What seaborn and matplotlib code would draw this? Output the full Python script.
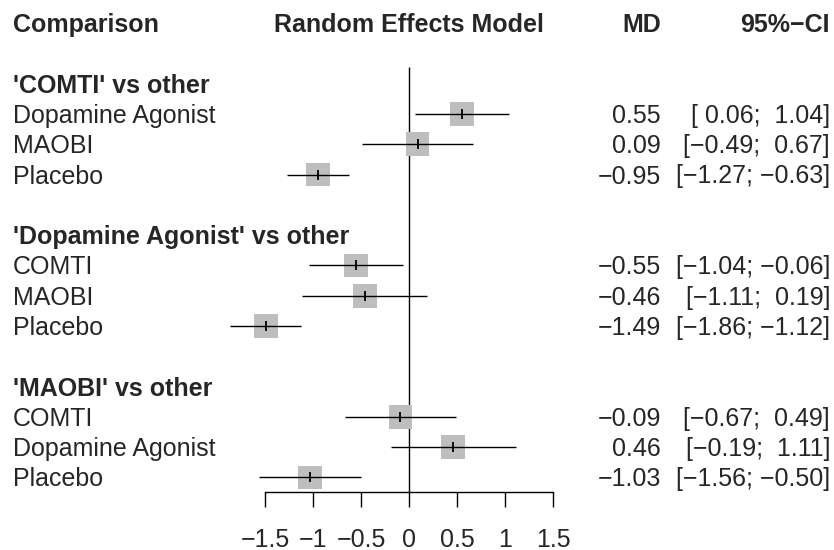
import numpy as np
import pandas as pd
import matplotlib
matplotlib.use("Agg")
import matplotlib.pyplot as plt
import matplotlib.transforms as mtransforms
import seaborn as sns

# forest plot data
groups = ["'COMTI' vs other", "'Dopamine Agonist' vs other", "'MAOBI' vs other"]
treatments = [
    ["Dopamine Agonist", "MAOBI", "Placebo"],
    ["COMTI", "MAOBI", "Placebo"],
    ["COMTI", "Dopamine Agonist", "Placebo"],
]
md = [0.55, 0.09, -0.95, -0.55, -0.46, -1.49, -0.09, 0.46, -1.03]
lower = [0.06, -0.49, -1.27, -1.04, -1.11, -1.86, -0.67, -0.19, -1.56]
upper = [1.04, 0.67, -0.63, -0.06, 0.19, -1.12, 0.49, 1.11, -0.50]
xticks = [-1.5, -1, -0.5, 0, 0.5, 1, 1.5]
xtick_labels = ["\u22121.5", "\u22121", "\u22120.5", "0", "0.5", "1", "1.5"]

sns.set_style("white")
plt.rcParams["font.family"] = ["Liberation Sans", "DejaVu Sans"]
FS = 18

W, H = 834, 550
fig = plt.figure(figsize=(W / 100, H / 100), dpi=100)

# plot area: x from -1.5 (265px) to 1.5 (553px); y in row units, 30.3px per row
row_h = 30.3
top_k = -23 / row_h
bot_k = (H - 23) / row_h
ax = fig.add_axes([265 / W, 0, 288 / W, 1])
ax.set_xlim(-1.5, 1.5)
ax.set_ylim(bot_k, top_k)
ax.patch.set_alpha(0)

# build a tidy frame of rows
rows = []
idx = 0
for g, name in enumerate(groups):
    for i, trt in enumerate(treatments[g]):
        rows.append({"group": name, "trt": trt, "row": 3 + 5 * g + i,
                     "md": md[idx], "lower": lower[idx], "upper": upper[idx]})
        idx += 1
df = pd.DataFrame(rows)

axis_k = (492 - 23) / row_h

# reference line
ax.vlines(0, 1.45, axis_k, color="black", lw=1.0, zorder=1)

# squares
sns.scatterplot(data=df, x="md", y="row", marker="s", s=290, color="#BEBEBE",
                edgecolor="none", linewidth=0, ax=ax, zorder=2, legend=False,
                clip_on=False)
# CI lines
ax.hlines(df["row"], df["lower"], df["upper"], color="black", lw=1.0, zorder=3,
          clip_on=False)
# small tick at estimate
sns.scatterplot(data=df, x="md", y="row", marker="|", s=50, color="black",
                linewidth=1.3, ax=ax, zorder=4, legend=False, clip_on=False)

# axis
for side in ["top", "left", "right"]:
    ax.spines[side].set_visible(False)
ax.spines["bottom"].set_position(("data", axis_k))
ax.spines["bottom"].set_bounds(-1.5, 1.5)
ax.spines["bottom"].set_linewidth(1.0)
ax.spines["bottom"].set_color("black")
ax.set_xticks(xticks)
ax.set_xticklabels(xtick_labels, fontsize=FS)
ax.tick_params(axis="x", direction="out", length=10.6, width=1.0, color="black",
               pad=15, bottom=True)
ax.set_yticks([])
ax.set_xlabel("")
ax.set_ylabel("")

# text columns: x in figure pixels, y in rows
tr = mtransforms.blended_transform_factory(fig.transFigure, ax.transData)
base = 9 / row_h  # baseline offset from cap center


def put(px, k, s, ha="left", bold=False):
    ax.text(px / W, k + base, s, transform=tr, ha=ha, va="baseline",
            fontsize=FS, fontweight="bold" if bold else "normal", clip_on=False)


def fmt(v):
    return f"{v:.2f}".replace("-", "\u2212")


def fmt_pad(v):
    s = f"{v:5.2f}"
    return s.replace("-", "\u2212")


put(13, 0, "Comparison", bold=True)
put(409, 0, "Random Effects Model", ha="center", bold=True)
put(661, 0, "MD", ha="right", bold=True)
put(830, 0, "95%\u2212CI", ha="right", bold=True)

for g, name in enumerate(groups):
    put(13, 2 + 5 * g, name, bold=True)

for _, r in df.iterrows():
    put(13, r["row"], r["trt"])
    put(661, r["row"], fmt(r["md"]), ha="right")
    put(830, r["row"], "[" + fmt_pad(r["lower"]) + "; " + fmt_pad(r["upper"]) + "]", ha="right")

fig.savefig("out.png", dpi=100)
